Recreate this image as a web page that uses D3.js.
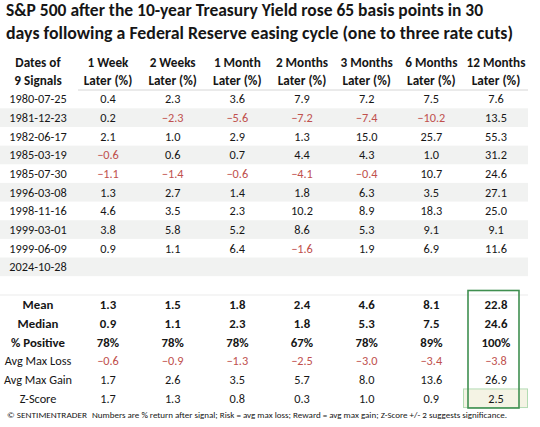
<!DOCTYPE html>
<html><head><meta charset="utf-8">
<script src="https://cdn.jsdelivr.net/npm/d3@7"></script>
<style>
html,body{margin:0;padding:0;background:#fff;}
svg{display:block;font-family:Carlito,Calibri,Lato,"Open Sans",sans-serif;}
</style></head>
<body><svg id="chart" width="540" height="427"></svg>
<script>
// ---- data ----
const titleLines = [
  "S&P 500 after the 10-year Treasury Yield rose 65 basis points in 30",
  "days following a Federal Reserve easing cycle (one to three rate cuts)"
];
const dateHeader = ["Dates of", "9 Signals"];
const horizons = ["1 Week", "2 Weeks", "1 Month", "2 Months", "3 Months", "6 Months", "12 Months"];
const dates = ["1980-07-25","1981-12-23","1982-06-17","1985-03-19","1985-07-30","1996-03-08","1998-11-16","1999-03-01","1999-06-09","2024-10-28"];
const ret1W  = [0.4, 0.2, 2.1, -0.6, -1.1, 1.3, 4.6, 3.8, 0.9, null];
const ret2W  = [2.3, -2.3, 1.0, 0.6, -1.4, 2.7, 3.5, 5.8, 1.1, null];
const ret1M  = [3.6, -5.6, 2.9, 0.7, -0.6, 1.4, 2.3, 5.2, 6.4, null];
const ret2M  = [7.9, -7.2, 1.3, 4.4, -4.1, 1.8, 10.2, 8.6, -1.6, null];
const ret3M  = [7.2, -7.4, 15.0, 4.3, -0.4, 6.3, 8.9, 5.3, 1.9, null];
const ret6M  = [7.5, -10.2, 25.7, 1.0, 10.7, 3.5, 18.3, 9.1, 6.9, null];
const ret12M = [7.6, 13.5, 55.3, 31.2, 24.6, 27.1, 25.0, 9.1, 11.6, null];
const summaryLabels = ["Mean", "Median", "% Positive", "Avg Max Loss", "Avg Max Gain", "Z-Score"];
const meanRow    = [1.3, 1.5, 1.8, 2.4, 4.6, 8.1, 22.8];
const medianRow  = [0.9, 1.1, 2.3, 1.8, 5.3, 7.5, 24.6];
const pctPosRow  = [78, 78, 78, 67, 78, 89, 100];
const maxLossRow = [-0.6, -0.9, -1.3, -2.5, -3.0, -3.4, -3.8];
const maxGainRow = [1.7, 2.6, 3.5, 5.7, 8.0, 13.6, 26.9];
const zScoreRow  = [1.7, 1.3, 0.8, 0.3, 1.0, 0.9, 2.5];
const footerBrand = "© SENTIMENTRADER";
const footerNote = "Numbers are % return after signal; Risk = avg max loss; Reward = avg max gain; Z-Score +/- 2 suggests significance.";

// ---- layout ----
const svg = d3.select("#chart");
const columns = [ret1W, ret2W, ret1M, ret2M, ret3M, ret6M, ret12M];
const x = d3.scalePoint().domain(horizons).range([108, 496]);
const dateX = 38;
const rowH = 18.65;
const yRow = d3.scaleLinear().domain([0, 1]).range([99, 99 + rowH]);
const ySum = d3.scaleLinear().domain([0, 1]).range([305, 305 + rowH]);
const txt = "#161616", red = "#c0504d";
const fs = 12.3;

// title
svg.selectAll("text.title").data(titleLines).join("text")
  .attr("class","title")
  .attr("x", 6).attr("y", (d,i) => i === 0 ? 16 : 38.5)
  .attr("textLength", (d,i) => i === 0 ? 477 : 507)
  .attr("lengthAdjust","spacingAndGlyphs")
  .attr("font-size", 17).attr("font-weight", 700).attr("fill", txt)
  .text(d => d);

// stripes
const stripeIdx = dates.map((d,i)=>i).filter(i => i % 2 === 1);
svg.selectAll("rect.stripe").data(stripeIdx).join("rect")
  .attr("x", 0).attr("width", 528)
  .attr("y", i => yRow(i) - rowH/2).attr("height", rowH)
  .attr("fill", "#f1f2f1");

// header lines
svg.append("line").attr("x1", 78).attr("x2", 528).attr("y1", 90).attr("y2", 90)
  .attr("stroke", "#d6d6d6").attr("stroke-width", 1);
svg.append("line").attr("x1", 0).attr("x2", 528).attr("y1", 295).attr("y2", 295)
  .attr("stroke", "#ebebeb").attr("stroke-width", 1);

// headers
const hdr = svg.append("g").attr("font-size", 13.2).attr("font-weight", 700).attr("fill", txt).attr("text-anchor","middle");
dateHeader.forEach((t,i) => hdr.append("text").attr("x", dateX).attr("y", i===0 ? 62.5 : 80.5).attr("dy","0.35em").text(t));
horizons.forEach(h => {
  hdr.append("text").attr("x", x(h)).attr("y", 62.5).attr("dy","0.35em").text(h);
  hdr.append("text").attr("x", x(h)).attr("y", 80.5).attr("dy","0.35em").text("Later (%)");
});

// date column
svg.append("g").selectAll("text").data(dates).join("text")
  .attr("x", dateX).attr("y", (d,i) => yRow(i)).attr("dy","0.35em")
  .attr("text-anchor","middle").attr("font-size", fs).attr("fill", txt)
  .text(d => d);

// data cells
const fmt = d3.format(".1f");
columns.forEach((col, c) => {
  svg.append("g").selectAll("text").data(col.map((v,i)=>({v,i})).filter(d => d.v !== null)).join("text")
    .attr("x", x(horizons[c])).attr("y", d => yRow(d.i)).attr("dy","0.35em")
    .attr("text-anchor","middle").attr("font-size", fs)
    .attr("fill", d => d.v < 0 ? red : txt)
    .text(d => fmt(d.v));
});

// z-score highlight cell
svg.append("rect").attr("x", 463.5).attr("y", ySum(5) - 9.3).attr("width", 64).attr("height", 18.6)
  .attr("fill", "#f4f3e4").attr("stroke", "#b3dbb3").attr("stroke-width", 1);

// summary rows
const summaryRows = [meanRow, medianRow, pctPosRow, maxLossRow, maxGainRow, zScoreRow];
summaryLabels.forEach((lab, r) => {
  const bold = r < 3;
  svg.append("text").attr("x", dateX).attr("y", ySum(r)).attr("dy","0.35em")
    .attr("text-anchor","middle").attr("font-size", bold ? 12.8 : fs).attr("font-weight", bold ? 700 : 400)
    .attr("fill", txt).text(lab);
  svg.append("g").selectAll("text").data(summaryRows[r]).join("text")
    .attr("x", (d,c) => x(horizons[c])).attr("y", ySum(r)).attr("dy","0.35em")
    .attr("text-anchor","middle").attr("font-size", bold ? 12.8 : fs).attr("font-weight", bold ? 700 : 400)
    .attr("fill", d => d < 0 ? red : txt)
    .text(d => r === 2 ? d + "%" : fmt(d));
});

// green box around 12 months summary
svg.append("rect").attr("x", 468).attr("y", 290.5).attr("width", 51).attr("height", 117.5)
  .attr("fill", "none").attr("stroke", "#3f8f50").attr("stroke-width", 1.6);

// footer
svg.append("text").attr("x", 7).attr("y", 418).attr("font-size", 9).attr("fill", txt)
  .attr("textLength", 80).attr("lengthAdjust","spacingAndGlyphs").text(footerBrand);
svg.append("text").attr("x", 92).attr("y", 418).attr("font-size", 8).attr("fill", txt)
  .attr("textLength", 415).attr("lengthAdjust","spacingAndGlyphs").text(footerNote);
</script></body></html>
